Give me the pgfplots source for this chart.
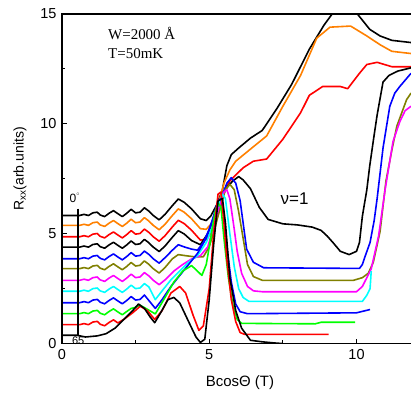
\documentclass[border=0pt]{standalone}
\usepackage{fontspec}
\setmainfont{Liberation Sans}
\newfontfamily\seriffont{Liberation Serif}
\usepackage{pgfplots}
\pgfplotsset{compat=1.18}
\definecolor{corange}{RGB}{255,128,0}
\definecolor{colive}{RGB}{128,128,0}
\definecolor{cgreen}{RGB}{0,255,0}
\definecolor{ccyan}{RGB}{0,255,255}
\definecolor{cmag}{RGB}{255,0,255}
\begin{document}
\begin{tikzpicture}
\begin{axis}[
  scale only axis, width=349.5pt, height=330pt,
  xmin=0, xmax=11.85, ymin=0, ymax=15,
  xtick={0,5,10}, minor xtick={2.5,7.5},
  ytick={0,5,10,15}, minor ytick={2.5,7.5,12.5},
  tick align=inside, xtick pos=bottom, ytick pos=left,
  major tick length=5pt, minor tick length=3.5pt,
  every tick/.style={black, line width=1pt},
  axis line style={draw=none},
  clip mode=individual,
  /pgf/number format/assume math mode=true,
  tick label style={font=\fontsize{14.5}{16}\selectfont},
  xticklabel style={yshift=-2pt},
  yticklabel style={xshift=-2pt},
  every axis plot/.append style={line width=1.6pt, no markers, line join=round},
]
% c1 black
\addplot[black] coordinates {(0,5.83)(0.6,5.83)(0.75,5.88)(0.9,5.83)(1.05,5.95)(1.2,5.98)(1.3,5.85)(1.45,5.78)(1.6,5.93)(1.75,6.05)(1.9,5.91)(2.05,5.78)(2.2,5.93)(2.35,6.11)(2.5,5.95)(2.65,5.98)(2.8,6.18)(2.95,6.03)(3.1,5.83)(3.3,5.63)(3.5,5.88)(3.75,6.28)(3.95,6.58)(4.15,6.43)(4.4,6.13)(4.7,5.68)(4.9,5.6)(5.05,5.8)(5.25,6.3)(5.45,7.0)(5.6,8.1)(5.75,8.6)(6.0,8.9)(6.4,9.35)(6.8,9.7)(7.3,10.7)(7.8,11.8)(8.4,13.4)(8.9,14.5)(9.2,15.05)(10.0,15.05)(10.45,14.3)(10.8,14.0)(11.2,13.8)(11.85,13.7)};
% c2 orange
\addplot[corange] coordinates {(0,5.38)(0.6,5.38)(0.75,5.43)(0.9,5.38)(1.05,5.50)(1.2,5.53)(1.3,5.40)(1.45,5.33)(1.6,5.48)(1.75,5.60)(1.9,5.46)(2.05,5.33)(2.2,5.48)(2.35,5.66)(2.5,5.50)(2.65,5.53)(2.8,5.73)(2.95,5.58)(3.1,5.38)(3.3,5.18)(3.5,5.43)(3.75,5.83)(3.95,6.13)(4.15,5.98)(4.4,5.68)(4.7,5.23)(4.9,5.2)(5.1,5.5)(5.3,6.3)(5.5,7.3)(5.7,7.9)(5.9,8.3)(6.4,8.85)(6.95,9.45)(7.5,10.8)(8.1,12.2)(8.65,13.9)(9.1,14.4)(9.8,14.45)(10.35,14.0)(10.8,13.6)(11.2,13.3)(11.85,13.2)};
% c3 red
\addplot[red] coordinates {(0,4.86)(0.6,4.86)(0.75,4.91)(0.9,4.86)(1.05,4.98)(1.2,5.01)(1.3,4.88)(1.45,4.81)(1.6,4.96)(1.75,5.08)(1.9,4.94)(2.05,4.81)(2.2,4.96)(2.35,5.14)(2.5,4.98)(2.65,5.01)(2.8,5.21)(2.95,5.06)(3.1,4.86)(3.3,4.66)(3.5,4.91)(3.75,5.31)(3.95,5.61)(4.15,5.46)(4.4,5.16)(4.7,4.71)(4.9,4.75)(5.1,5.1)(5.3,5.9)(5.5,6.9)(5.7,7.4)(6.15,8.0)(6.5,8.3)(6.95,8.4)(7.5,9.3)(8.1,10.5)(8.4,11.3)(8.85,11.7)(9.45,11.7)(9.7,11.6)(10.1,12.3)(10.35,12.7)(10.7,12.8)(11.2,12.6)(11.85,12.6)};
% c4 black
\addplot[black] coordinates {(0,4.39)(0.6,4.39)(0.75,4.44)(0.9,4.39)(1.05,4.51)(1.2,4.54)(1.3,4.41)(1.45,4.34)(1.6,4.49)(1.75,4.61)(1.9,4.47)(2.05,4.34)(2.2,4.49)(2.35,4.67)(2.5,4.51)(2.65,4.54)(2.8,4.74)(2.95,4.59)(3.1,4.39)(3.3,4.19)(3.5,4.44)(3.75,4.84)(3.95,5.14)(4.15,4.99)(4.4,4.69)(4.7,4.5)(4.95,5.0)(5.2,5.8)(5.4,6.6)(5.6,7.1)(5.8,7.4)(6.0,7.6)(6.15,7.45)(6.4,7.05)(6.7,6.2)(7.0,5.65)(7.5,5.45)(8.0,5.4)(8.5,5.3)(8.8,5.15)(9.0,4.9)(9.2,4.6)(9.45,4.2)(9.75,4.05)(10.0,4.2)(10.1,4.6)(10.2,5.8)(10.35,7.0)(10.45,8.1)(10.6,9.5)(10.7,10.4)(10.9,11.9)(11.1,12.2)(11.4,12.4)(11.85,12.55)};
% c5 blue
\addplot[blue] coordinates {(0,3.86)(0.6,3.86)(0.75,3.91)(0.9,3.86)(1.05,3.98)(1.2,4.01)(1.3,3.88)(1.45,3.81)(1.6,3.96)(1.75,4.08)(1.9,3.94)(2.05,3.81)(2.2,3.96)(2.35,4.14)(2.5,3.98)(2.65,4.01)(2.8,4.21)(2.95,4.06)(3.1,3.86)(3.3,3.66)(3.5,3.91)(3.75,4.25)(3.95,4.5)(4.15,4.4)(4.4,4.3)(4.6,4.25)(4.8,4.6)(5.0,5.2)(5.2,5.9)(5.4,6.6)(5.6,7.3)(5.75,7.55)(5.9,7.3)(6.05,6.5)(6.15,5.5)(6.27,4.3)(6.5,3.7)(6.85,3.45)(10.1,3.42)(10.2,3.6)(10.3,4.0)(10.46,4.6)(10.6,5.6)(10.7,6.6)(10.9,8.9)(11.13,10.8)(11.3,11.4)(11.47,11.7)(11.85,12.3)};
% c6 olive
\addplot[colive] coordinates {(0,3.41)(0.6,3.41)(0.75,3.46)(0.9,3.41)(1.05,3.53)(1.2,3.56)(1.3,3.43)(1.45,3.36)(1.6,3.51)(1.75,3.63)(1.9,3.49)(2.05,3.36)(2.2,3.51)(2.35,3.69)(2.5,3.53)(2.65,3.56)(2.8,3.76)(2.95,3.61)(3.1,3.41)(3.3,3.21)(3.5,3.46)(3.75,3.86)(3.95,4.05)(4.2,4.0)(4.5,3.95)(4.8,3.95)(5.0,4.4)(5.2,5.3)(5.4,6.3)(5.55,7.0)(5.7,7.25)(5.85,7.0)(6.0,6.0)(6.15,4.8)(6.3,3.6)(6.5,3.05)(6.8,2.88)(9.9,2.88)(10.2,3.0)(10.4,3.2)(10.57,3.7)(10.8,5.1)(11.0,7.4)(11.2,8.8)(11.37,9.9)(11.7,11.1)(11.85,11.4)};
% c7 magenta
\addplot[cmag] coordinates {(0,2.88)(0.6,2.88)(0.75,2.93)(0.9,2.88)(1.05,3.00)(1.2,3.03)(1.3,2.90)(1.45,2.83)(1.6,2.98)(1.75,3.10)(1.9,2.96)(2.05,2.83)(2.2,2.98)(2.35,3.16)(2.5,3.00)(2.65,3.03)(2.8,3.23)(2.95,3.08)(3.1,2.88)(3.3,2.68)(3.5,2.9)(3.8,3.3)(4.1,3.6)(4.4,3.85)(4.7,4.0)(4.95,4.4)(5.15,5.3)(5.35,6.3)(5.5,6.9)(5.6,7.0)(5.7,6.6)(5.85,5.2)(5.95,4.2)(6.1,3.2)(6.3,2.6)(6.5,2.4)(6.8,2.36)(10.0,2.36)(10.2,2.6)(10.35,3.0)(10.5,3.4)(10.75,4.9)(10.97,7.0)(11.24,9.2)(11.47,10.1)(11.65,10.6)(11.85,10.8)};
% c8 cyan
\addplot[ccyan] coordinates {(0,2.38)(0.6,2.38)(0.75,2.43)(0.9,2.38)(1.05,2.50)(1.2,2.53)(1.3,2.40)(1.45,2.33)(1.6,2.48)(1.75,2.60)(1.9,2.46)(2.05,2.33)(2.2,2.48)(2.35,2.66)(2.5,2.50)(2.65,2.53)(2.8,2.73)(2.95,2.58)(3.17,2.0)(3.4,2.4)(3.7,2.9)(4.0,3.3)(4.3,3.7)(4.6,4.0)(4.9,4.6)(5.1,5.3)(5.3,6.3)(5.45,6.8)(5.55,6.6)(5.7,5.0)(5.85,3.5)(6.0,2.5)(6.15,2.1)(6.35,1.92)(10.2,1.92)(10.35,2.2)(10.46,2.5)(10.5,3.3)};
% c9 blue
\addplot[blue] coordinates {(0,1.86)(0.6,1.86)(0.75,1.91)(0.9,1.86)(1.05,1.98)(1.2,2.01)(1.3,1.88)(1.45,1.81)(1.6,1.96)(1.75,2.08)(1.9,1.94)(2.05,1.81)(2.2,1.96)(2.35,2.14)(2.5,1.98)(2.65,2.01)(2.8,2.21)(3.17,1.6)(3.4,2.0)(3.7,2.6)(4.0,3.1)(4.3,3.6)(4.6,4.1)(4.9,4.8)(5.1,5.6)(5.3,6.5)(5.4,6.6)(5.5,5.8)(5.6,4.4)(5.75,2.8)(5.9,1.8)(6.05,1.45)(6.3,1.36)(10.0,1.4)(10.46,1.55)};
% c10 green
\addplot[cgreen] coordinates {(0,1.36)(0.6,1.36)(0.75,1.41)(0.9,1.36)(1.05,1.48)(1.2,1.51)(1.3,1.38)(1.45,1.31)(1.6,1.46)(1.75,1.58)(1.9,1.44)(2.05,1.31)(2.2,1.46)(2.35,1.6)(2.5,1.65)(2.65,1.75)(2.85,1.6)(3.17,1.35)(3.5,2.1)(3.8,2.8)(4.1,3.3)(4.4,3.55)(4.6,3.3)(4.75,3.1)(4.9,3.6)(5.05,4.8)(5.2,6.0)(5.3,6.4)(5.4,6.2)(5.5,4.8)(5.65,3.0)(5.8,1.8)(5.95,1.1)(6.1,0.92)(8.6,0.9)(8.8,0.97)(9.95,0.97)};
% c11 red
\addplot[red] coordinates {(0,0.86)(0.6,0.86)(0.75,0.91)(0.9,0.86)(1.05,0.98)(1.2,1.01)(1.3,0.88)(1.45,0.81)(1.6,0.96)(1.75,1.08)(1.9,0.94)(2.1,1.1)(2.4,1.4)(2.66,1.7)(2.9,1.5)(3.15,1.1)(3.4,1.5)(3.7,2.3)(4.0,2.6)(4.2,2.3)(4.45,1.3)(4.65,0.6)(4.8,0.8)(5.0,2.5)(5.15,5.0)(5.3,6.8)(5.4,6.9)(5.5,5.5)(5.6,3.8)(5.75,2.0)(5.9,1.0)(6.05,0.5)(6.2,0.42)(9.05,0.42)};
% c12 black
\addplot[black] coordinates {(0,0.38)(0.5,0.38)(0.8,0.3)(1.2,0.35)(1.5,0.45)(1.8,0.7)(2.1,1.1)(2.4,1.5)(2.6,1.8)(2.8,1.6)(3.0,1.2)(3.15,0.95)(3.35,1.4)(3.6,2.0)(3.8,2.1)(4.0,1.85)(4.3,1.0)(4.55,0.3)(4.7,0.05)(4.85,0.2)(5.0,2.0)(5.15,4.5)(5.3,6.5)(5.45,6.6)(5.55,5.5)(5.7,3.0)(5.9,1.5)(6.1,0.7)(6.4,0.15)(6.8,0.08)(7.2,0.03)(7.5,0.0)};
% axis frame (left, top, bottom)
\draw[line width=1.2pt] (rel axis cs:1,1) -- (rel axis cs:0,1) -- (rel axis cs:0,0) -- (rel axis cs:1,0);
% angle marker
\draw[line width=1.4pt] (axis cs:0.55,6.14) -- (axis cs:0.55,0.36);
\node[font=\fontsize{12}{14}\selectfont] at (axis cs:0.45,6.65) {0\textsuperscript{\fontsize{6}{6}\selectfont$^\circ$}};
\node[font=\fontsize{11}{12}\selectfont] at (axis cs:0.55,0.14) {65};
\node[font=\fontsize{17}{20}\selectfont] at (axis cs:7.9,6.6) {ν=1};
\node[font=\seriffont\fontsize{15}{17}\selectfont, anchor=west] at (axis cs:1.45,14.1) {W=2000 Å};
\node[font=\seriffont\fontsize{15}{17}\selectfont, anchor=west] at (axis cs:1.45,13.2) {T=50mK};
\node[font=\fontsize{15}{17}\selectfont] at ([yshift=-39pt]rel axis cs:0.51,0) {BcosΘ (T)};
\node[font=\fontsize{14}{16}\selectfont, rotate=90] at ([xshift=-42pt]rel axis cs:0,0.53) {R\textsubscript{xx}(arb.units)};
\coordinate (ll) at (rel axis cs:0,0);
\coordinate (ur) at (rel axis cs:1,1);
\end{axis}
\pgfresetboundingbox
\path ([xshift=-62pt,yshift=-51.7pt]ll) rectangle ([yshift=14pt]ur);
\end{tikzpicture}
\end{document}
